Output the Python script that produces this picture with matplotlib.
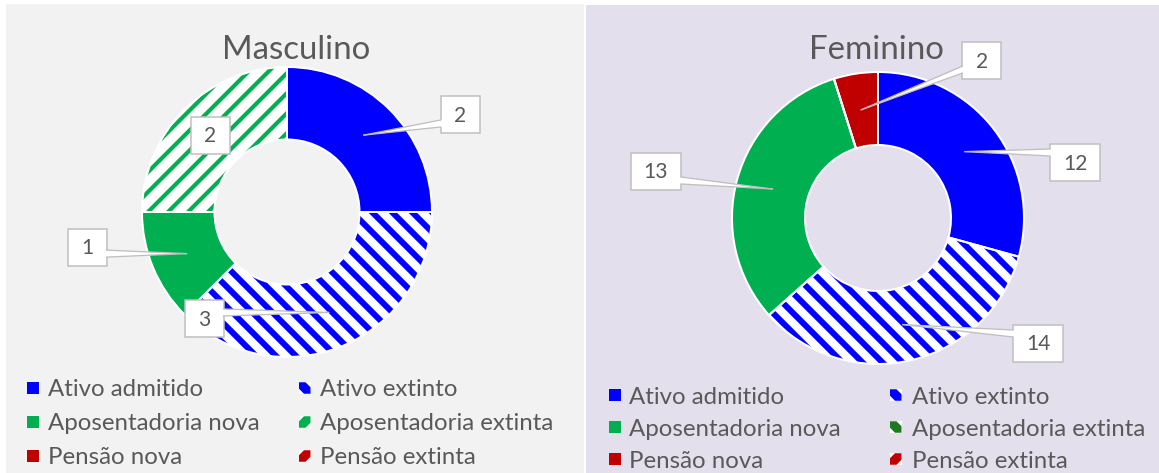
import matplotlib
matplotlib.use('Agg')
import matplotlib.pyplot as plt
from matplotlib.patches import Rectangle, Polygon
from matplotlib.lines import Line2D
import numpy as np

# ---------------- data ----------------
categories = ['Ativo admitido', 'Ativo extinto', 'Aposentadoria nova',
              'Aposentadoria extinta', 'Pensão nova', 'Pensão extinta']
masculino = [2, 3, 1, 2, 0, 0]
feminino = [12, 14, 13, 0, 2, 0]
titles = ['Masculino', 'Feminino']

# ---------------- style ----------------
W, H, DPI = 1159, 473, 120
BLUE, GREEN, RED = '#0000ff', '#00b050', '#c00000'
TXT = '#595959'
styles = [(BLUE, None), (BLUE, '\\\\'), (GREEN, None), (GREEN, '//'), (RED, None), (RED, '//')]


def fx(px):
    return px / W


def fy(py):
    return 1 - py / H


def pt(px):
    return px * 72 / DPI


plt.rcParams['font.family'] = ['Lato', 'DejaVu Sans']
fig = plt.figure(figsize=(W / DPI, H / DPI), dpi=DPI, facecolor='white')

# panel backgrounds
fig.add_artist(Rectangle((fx(6), 0), fx(584) - fx(6), fy(4), transform=fig.transFigure,
                         facecolor='#f2f2f2', edgecolor='none', zorder=-5))
fig.add_artist(Rectangle((fx(586), 0), 1 - fx(586), fy(5), transform=fig.transFigure,
                         facecolor='#e4dfec', edgecolor='none', zorder=-5))

panels = [
    dict(title=titles[0], values=masculino, cx=287, cy=212, R=145, tx=296,
         boxes={0: (460, 114), 1: (204, 318), 2: (87, 247), 3: (210, 135)}, inside=[3],
         legend=dict(h1=27, h2=299, t1=48, t2=320, rows=[388, 422, 456]),
         leg_override={}),
    dict(title=titles[1], values=feminino, cx=878, cy=218, R=146, tx=876,
         boxes={0: (1075, 162), 1: (1038, 343), 2: (656, 171), 4: (982, 60)}, inside=[],
         legend=dict(h1=609, h2=890, t1=629, t2=912, rows=[395, 427, 459]),
         leg_override={3: ('#1f7a1f', '\\')}),
]

HLW = {BLUE: 3.6, GREEN: 2.5, RED: 3.0}


def set_hatch_lw(p, lw):
    if hasattr(p, 'set_hatch_linewidth'):
        p.set_hatch_linewidth(lw)


for P in panels:
    cx, cy, R = P['cx'], P['cy'], P['R']
    ax = fig.add_axes([fx(cx - R), fy(cy + R), 2 * R / W, 2 * R / H])
    vals = P['values']
    wedges, _ = ax.pie(vals, radius=1, startangle=90, counterclock=False,
                       wedgeprops=dict(width=0.5, linewidth=0))
    for w, (c, h) in zip(wedges, styles):
        if h is None:
            w.set_facecolor(c)
            w.set_edgecolor(c)
            w.set_linewidth(0)
        else:
            plt.rcParams['hatch.linewidth'] = HLW[c]
            w.set_facecolor('white')
            w.set_edgecolor(c)
            w.set_linewidth(0)
            w.set_hatch(h)
            set_hatch_lw(w, HLW[c])
    # white separators
    ax.pie(vals, radius=1, startangle=90, counterclock=False,
           wedgeprops=dict(width=0.5, facecolor='none', edgecolor='white', linewidth=1.2))
    ax.set_xlim(-1, 1)
    ax.set_ylim(-1, 1)
    ax.axis('off')

    # title
    fig.text(fx(P['tx']), fy(59), P['title'], ha='center', va='baseline',
             fontsize=pt(33), color=TXT)

    # data labels
    for i, (bx, by) in P['boxes'].items():
        w = wedges[i]
        th = np.deg2rad((w.theta1 + w.theta2) / 2)
        dx, dy = ax.transData.transform((0.75 * np.cos(th), 0.75 * np.sin(th)))
        axp, ayp = dx, H - dy
        s = str(vals[i])
        bw, bh = 28 + 11 * len(s), 37
        fig.add_artist(Rectangle((fx(bx - bw / 2), fy(by + bh / 2)), bw / W, bh / H,
                                 transform=fig.transFigure, facecolor='white',
                                 edgecolor='#bfbfbf', linewidth=pt(1.5), zorder=5))
        fig.text(fx(bx), fy(by + 7.5), s, ha='center', va='baseline', fontsize=pt(21),
                 color=TXT, zorder=8)
        if i in P['inside']:
            continue
        if axp < bx:
            ex, ein = bx - bw / 2, bx - bw / 2 + 1.5
        else:
            ex, ein = bx + bw / 2, bx + bw / 2 - 1.5
        ey = float(np.clip(ayp, by - bh / 2 + 9, by + bh / 2 - 9))
        hw = 3.5
        poly = [(fx(axp), fy(ayp)), (fx(ein), fy(ey - hw)), (fx(ein), fy(ey + hw))]
        fig.add_artist(Polygon(poly, closed=True, transform=fig.transFigure,
                               facecolor='white', edgecolor='none', zorder=6))
        for yy in (ey - hw, ey + hw):
            fig.add_artist(Line2D([fx(axp), fx(ex)], [fy(ayp), fy(yy)], transform=fig.transFigure,
                                  color='#bfbfbf', linewidth=pt(1.3), zorder=7))

    # legend (two columns)
    L = P['legend']
    fs = 24
    S = 11.5
    for col, (hx, tx) in enumerate([(L['h1'], L['t1']), (L['h2'], L['t2'])]):
        for r, rowy in enumerate(L['rows']):
            i = col + 2 * r
            c, h = P['leg_override'].get(i, styles[i])
            x0, y0 = hx, rowy - S / 2
            fig.add_artist(Rectangle((fx(x0), fy(y0 + S)), S / W, S / H, transform=fig.transFigure,
                                     facecolor=c if h is None else 'white',
                                     edgecolor='none', zorder=5))
            if h is not None:
                d = 6.5
                if '\\' in h:
                    pts = [(x0, y0), (x0 + d, y0), (x0 + S, y0 + S - d), (x0 + S, y0 + S),
                           (x0 + S - d, y0 + S), (x0, y0 + d)]
                else:
                    pts = [(x0, y0 + S), (x0, y0 + S - d), (x0 + S - d, y0), (x0 + S, y0),
                           (x0 + S, y0 + d), (x0 + d, y0 + S)]
                fig.add_artist(Polygon([(fx(a), fy(b)) for a, b in pts], closed=True,
                                       transform=fig.transFigure, facecolor=c,
                                       edgecolor='none', zorder=6))
            fig.text(fx(tx), fy(rowy + 8.5), categories[i], ha='left', va='baseline',
                     fontsize=pt(fs), color=TXT)

fig.savefig('out.png', dpi=DPI, facecolor='white')
